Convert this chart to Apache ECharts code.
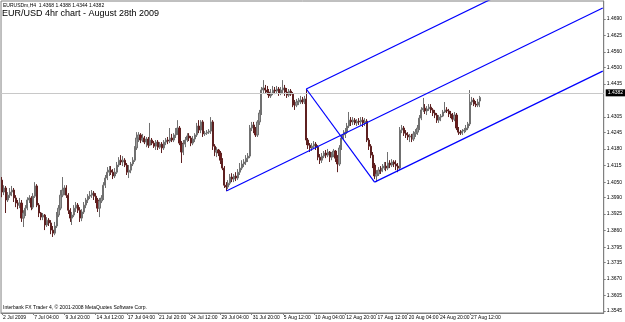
<!DOCTYPE html>
<html><head><meta charset="utf-8">
<script src="https://cdn.jsdelivr.net/npm/echarts@6/dist/echarts.min.js"></script>
<style>html,body{margin:0;padding:0;background:#fff}#c{width:625px;height:322px}</style>
</head><body><div id="c"></div>
<script>
// ---- data ----
const xTickLabels = ['2 Jul 2009','7 Jul 04:00','9 Jul 20:00','14 Jul 12:00','17 Jul 04:00','21 Jul 20:00','24 Jul 12:00','29 Jul 04:00','31 Jul 20:00','5 Aug 12:00','10 Aug 04:00','12 Aug 20:00','17 Aug 12:00','20 Aug 04:00','24 Aug 20:00','27 Aug 12:00'];
const yTickLabels = [1.3545,1.3605,1.3670,1.3735,1.3795,1.3860,1.3925,1.3990,1.4050,1.4115,1.4180,1.4245,1.4305,1.4435,1.4500,1.4560,1.4625,1.4690];
const slotCount = 309; // bar slots shown on the time axis (incl. empty right margin)
const opens = [
1.4058,1.4011,1.4027,1.3980,1.3999,1.4011,1.4019,1.3988,1.3968,1.3960,
1.3968,1.3909,1.3929,1.3948,1.3980,1.3988,1.3952,1.3995,1.4035,1.3960,
1.3929,1.3913,1.3921,1.3882,1.3901,1.3890,1.3862,1.3850,1.3878,1.3921,
1.3948,1.3999,1.4019,1.4027,1.3999,1.3940,1.3909,1.3921,1.3948,1.3960,
1.3940,1.3909,1.3933,1.3960,1.3980,1.3995,1.3999,1.4007,1.3995,1.3980,
1.3948,1.3976,1.3988,1.4038,1.4066,1.4089,1.4097,1.4089,1.4074,1.4089,
1.4117,1.4136,1.4129,1.4136,1.4117,1.4089,1.4097,1.4121,1.4136,1.4184,
1.4223,1.4235,1.4215,1.4223,1.4207,1.4219,1.4195,1.4215,1.4203,1.4191,
1.4207,1.4187,1.4199,1.4184,1.4207,1.4215,1.4211,1.4223,1.4215,1.4235,
1.4254,1.4262,1.4203,1.4168,1.4199,1.4215,1.4231,1.4223,1.4203,1.4219,
1.4235,1.4270,1.4254,1.4286,1.4239,1.4242,1.4246,1.4250,1.4286,1.4191,
1.4168,1.4176,1.4164,1.4136,1.4105,1.4038,1.4031,1.4046,1.4070,1.4062,
1.4074,1.4066,1.4089,1.4105,1.4121,1.4129,1.4144,1.4152,1.4262,1.4274,
1.4254,1.4235,1.4286,1.4321,1.4411,1.4419,1.4411,1.4403,1.4388,1.4399,
1.4411,1.4407,1.4415,1.4399,1.4411,1.4419,1.4403,1.4391,1.4407,1.4395,
1.4360,1.4352,1.4364,1.4368,1.4372,1.4364,1.4376,1.4215,1.4195,1.4184,
1.4191,1.4199,1.4187,1.4148,1.4136,1.4152,1.4164,1.4156,1.4168,1.4148,
1.4156,1.4172,1.4144,1.4121,1.4184,1.4223,1.4235,1.4246,1.4270,1.4293,
1.4286,1.4293,1.4282,1.4289,1.4286,1.4293,1.4282,1.4289,1.4215,1.4191,
1.4156,1.4117,1.4074,1.4082,1.4097,1.4093,1.4105,1.4113,1.4105,1.4125,
1.4117,1.4129,1.4121,1.4113,1.4105,1.4254,1.4262,1.4242,1.4235,1.4227,
1.4231,1.4219,1.4239,1.4246,1.4262,1.4301,1.4333,1.4340,1.4329,1.4337,
1.4344,1.4333,1.4321,1.4313,1.4293,1.4305,1.4309,1.4325,1.4333,1.4329,
1.4317,1.4309,1.4297,1.4313,1.4262,1.4246,1.4242,1.4250,1.4254,1.4262,
1.4278,1.4364,1.4372,1.4356,1.4352,1.4368];
const highs = [
1.4070,1.4038,1.4035,1.4011,1.4027,1.4035,1.4027,1.3999,1.3980,1.3988,
1.3980,1.3940,1.3960,1.3991,1.3999,1.3995,1.4007,1.4050,1.4042,1.3968,
1.3933,1.3929,1.3925,1.3913,1.3909,1.3901,1.3878,1.3894,1.3933,1.3960,
1.4019,1.4070,1.4038,1.4038,1.4007,1.3948,1.3933,1.3960,1.3972,1.3968,
1.3952,1.3944,1.3972,1.3988,1.4003,1.4015,1.4019,1.4015,1.4007,1.3988,
1.3988,1.3999,1.4050,1.4078,1.4109,1.4113,1.4113,1.4101,1.4105,1.4129,
1.4148,1.4156,1.4152,1.4144,1.4125,1.4117,1.4129,1.4148,1.4191,1.4246,
1.4246,1.4242,1.4239,1.4231,1.4227,1.4227,1.4282,1.4223,1.4211,1.4215,
1.4215,1.4207,1.4207,1.4215,1.4223,1.4227,1.4262,1.4239,1.4242,1.4262,
1.4293,1.4270,1.4211,1.4215,1.4227,1.4242,1.4242,1.4231,1.4231,1.4242,
1.4282,1.4293,1.4293,1.4293,1.4250,1.4254,1.4258,1.4305,1.4293,1.4199,
1.4187,1.4180,1.4172,1.4144,1.4113,1.4050,1.4058,1.4082,1.4085,1.4082,
1.4089,1.4101,1.4125,1.4136,1.4140,1.4156,1.4164,1.4274,1.4286,1.4286,
1.4266,1.4293,1.4333,1.4423,1.4450,1.4431,1.4427,1.4415,1.4415,1.4427,
1.4423,1.4427,1.4423,1.4423,1.4450,1.4431,1.4419,1.4415,1.4415,1.4403,
1.4372,1.4376,1.4380,1.4388,1.4384,1.4388,1.4415,1.4223,1.4203,1.4203,
1.4211,1.4207,1.4195,1.4160,1.4164,1.4172,1.4176,1.4180,1.4172,1.4168,
1.4180,1.4176,1.4156,1.4195,1.4235,1.4254,1.4262,1.4282,1.4325,1.4305,
1.4305,1.4301,1.4297,1.4301,1.4305,1.4305,1.4301,1.4297,1.4223,1.4199,
1.4168,1.4125,1.4097,1.4109,1.4113,1.4121,1.4129,1.4129,1.4168,1.4136,
1.4140,1.4136,1.4136,1.4125,1.4266,1.4274,1.4270,1.4254,1.4246,1.4239,
1.4239,1.4250,1.4258,1.4274,1.4313,1.4344,1.4380,1.4356,1.4348,1.4356,
1.4356,1.4340,1.4333,1.4321,1.4313,1.4317,1.4333,1.4364,1.4344,1.4337,
1.4329,1.4321,1.4325,1.4321,1.4266,1.4254,1.4258,1.4262,1.4274,1.4286,
1.4411,1.4384,1.4380,1.4368,1.4376,1.4388];
const lows = [
1.3991,1.3999,1.3929,1.3972,1.3988,1.3995,1.3972,1.3952,1.3944,1.3948,
1.3894,1.3874,1.3917,1.3940,1.3968,1.3940,1.3944,1.3988,1.3952,1.3913,
1.3901,1.3901,1.3862,1.3874,1.3878,1.3846,1.3835,1.3842,1.3870,1.3913,
1.3940,1.3991,1.3999,1.3988,1.3925,1.3894,1.3882,1.3913,1.3933,1.3929,
1.3894,1.3897,1.3925,1.3948,1.3968,1.3984,1.3988,1.3980,1.3968,1.3933,
1.3913,1.3968,1.3980,1.4027,1.4058,1.4074,1.4078,1.4062,1.4066,1.4082,
1.4109,1.4117,1.4113,1.4109,1.4078,1.4066,1.4085,1.4113,1.4129,1.4176,
1.4207,1.4203,1.4207,1.4199,1.4187,1.4184,1.4191,1.4195,1.4184,1.4176,
1.4176,1.4180,1.4164,1.4176,1.4195,1.4199,1.4203,1.4207,1.4207,1.4223,
1.4235,1.4195,1.4125,1.4156,1.4187,1.4207,1.4211,1.4191,1.4195,1.4207,
1.4227,1.4242,1.4242,1.4227,1.4231,1.4235,1.4239,1.4239,1.4176,1.4152,
1.4148,1.4152,1.4121,1.4097,1.4027,1.4015,1.4023,1.4038,1.4050,1.4050,
1.4054,1.4058,1.4078,1.4097,1.4109,1.4117,1.4129,1.4144,1.4250,1.4242,
1.4227,1.4227,1.4274,1.4313,1.4399,1.4399,1.4391,1.4380,1.4380,1.4391,
1.4395,1.4399,1.4388,1.4391,1.4395,1.4388,1.4380,1.4384,1.4388,1.4344,
1.4333,1.4344,1.4352,1.4356,1.4356,1.4356,1.4195,1.4180,1.4168,1.4172,
1.4184,1.4176,1.4136,1.4121,1.4125,1.4144,1.4144,1.4148,1.4129,1.4136,
1.4148,1.4129,1.4089,1.4113,1.4176,1.4215,1.4223,1.4239,1.4262,1.4270,
1.4274,1.4274,1.4270,1.4274,1.4274,1.4266,1.4270,1.4207,1.4176,1.4144,
1.4105,1.4062,1.4050,1.4074,1.4082,1.4089,1.4097,1.4093,1.4097,1.4105,
1.4109,1.4109,1.4097,1.4089,1.4097,1.4242,1.4231,1.4223,1.4215,1.4207,
1.4207,1.4211,1.4227,1.4235,1.4254,1.4293,1.4325,1.4317,1.4313,1.4329,
1.4321,1.4309,1.4301,1.4282,1.4282,1.4289,1.4305,1.4321,1.4321,1.4305,
1.4301,1.4286,1.4289,1.4254,1.4235,1.4235,1.4235,1.4242,1.4246,1.4254,
1.4270,1.4352,1.4348,1.4344,1.4344,1.4344];
const closes = [
1.4011,1.4027,1.3980,1.3999,1.4011,1.4019,1.3988,1.3968,1.3960,1.3968,
1.3909,1.3929,1.3948,1.3980,1.3988,1.3952,1.3995,1.4035,1.3960,1.3929,
1.3913,1.3921,1.3882,1.3901,1.3890,1.3862,1.3850,1.3878,1.3921,1.3948,
1.3999,1.4019,1.4027,1.3999,1.3940,1.3909,1.3921,1.3948,1.3960,1.3940,
1.3909,1.3933,1.3960,1.3980,1.3995,1.3999,1.4007,1.3995,1.3980,1.3948,
1.3976,1.3988,1.4038,1.4066,1.4089,1.4097,1.4089,1.4074,1.4089,1.4117,
1.4136,1.4129,1.4136,1.4117,1.4089,1.4097,1.4121,1.4136,1.4184,1.4223,
1.4235,1.4215,1.4223,1.4207,1.4219,1.4195,1.4215,1.4203,1.4191,1.4207,
1.4187,1.4199,1.4184,1.4207,1.4215,1.4211,1.4223,1.4215,1.4235,1.4254,
1.4262,1.4203,1.4168,1.4199,1.4215,1.4231,1.4223,1.4203,1.4219,1.4235,
1.4270,1.4254,1.4286,1.4239,1.4242,1.4246,1.4250,1.4286,1.4191,1.4168,
1.4176,1.4164,1.4136,1.4105,1.4038,1.4031,1.4046,1.4070,1.4062,1.4074,
1.4066,1.4089,1.4105,1.4121,1.4129,1.4144,1.4152,1.4262,1.4274,1.4254,
1.4235,1.4286,1.4321,1.4411,1.4419,1.4411,1.4403,1.4388,1.4399,1.4411,
1.4407,1.4415,1.4399,1.4411,1.4419,1.4403,1.4391,1.4407,1.4395,1.4360,
1.4352,1.4364,1.4368,1.4372,1.4364,1.4376,1.4215,1.4195,1.4184,1.4191,
1.4199,1.4187,1.4148,1.4136,1.4152,1.4164,1.4156,1.4168,1.4148,1.4156,
1.4172,1.4144,1.4121,1.4184,1.4223,1.4235,1.4246,1.4270,1.4293,1.4286,
1.4293,1.4282,1.4289,1.4286,1.4293,1.4282,1.4289,1.4215,1.4191,1.4156,
1.4117,1.4074,1.4082,1.4097,1.4093,1.4105,1.4113,1.4105,1.4125,1.4117,
1.4129,1.4121,1.4113,1.4105,1.4254,1.4262,1.4242,1.4235,1.4227,1.4231,
1.4219,1.4239,1.4246,1.4262,1.4301,1.4333,1.4340,1.4329,1.4337,1.4344,
1.4333,1.4321,1.4313,1.4293,1.4305,1.4309,1.4325,1.4333,1.4329,1.4317,
1.4309,1.4297,1.4313,1.4262,1.4246,1.4242,1.4250,1.4254,1.4262,1.4278,
1.4364,1.4372,1.4356,1.4352,1.4364,1.4382];
// Andrews pitchfork anchor points [bar index, price]
const pitchP1 = [115, 1.4015];
const pitchP2 = [156, 1.4415];
const pitchP3 = [191, 1.4050];
const lastPrice = 1.4382;
const headerText = 'EURUSDm,H4  1.4368 1.4388 1.4344 1.4382';
const titleText = 'EUR/USD 4hr chart - August 28th 2009';
const footerText = 'Interbank FX Trader 4, \u00A9 2001-2008 MetaQuotes Software Corp.';

// ---- build ----
const categories = Array.from({length: slotCount}, (_, i) => String(i));
const candles = opens.map((o, i) => [o, closes[i], lows[i], highs[i]]);
const mid = [(pitchP2[0] + pitchP3[0]) / 2, (pitchP2[1] + pitchP3[1]) / 2];
const slope = (mid[1] - pitchP1[1]) / (mid[0] - pitchP1[0]);
const endIdx = slotCount - 1;
const ext = p => [p, [endIdx, p[1] + slope * (endIdx - p[0])]];
const blue = {color: '#0000ff', width: 1.2};
const lineSeries = (data) => ({type: 'line', data, symbol: 'none', lineStyle: blue, silent: true, animation: false, clip: true, z: 5});

const chart = echarts.init(document.getElementById('c'), null, {renderer: 'canvas'});
const isTick = (i) => i % 16 === 0 && i / 16 < xTickLabels.length;
chart.setOption({
  animation: false,
  backgroundColor: '#ffffff',
  textStyle: {fontFamily: 'Liberation Sans, Arial, sans-serif'},
  title: {text: titleText, left: 2, top: 9, padding: 0,
    textStyle: {fontSize: 9, fontWeight: 'normal', color: '#000', fontFamily: 'Liberation Sans, Arial, sans-serif'}},
  graphic: [
    {type: 'text', left: 3, top: 3, style: {text: headerText, fontSize: 5, fill: '#000', fontFamily: 'Liberation Sans, Arial, sans-serif'}},
    {type: 'text', left: 3, top: 305, style: {text: footerText, fontSize: 5, fill: '#000', fontFamily: 'Liberation Sans, Arial, sans-serif'}}
  ],
  grid: {left: 1, right: 18, top: 1, bottom: 9, show: true, borderColor: '#808080', borderWidth: 1, containLabel: false},
  xAxis: {
    type: 'category', data: categories, boundaryGap: true,
    axisLine: {lineStyle: {color: '#808080'}},
    axisTick: {show: true, alignWithLabel: true, interval: (i) => isTick(i), length: 2, lineStyle: {color: '#808080'}},
    axisLabel: {interval: (i) => isTick(i), formatter: (v, i) => xTickLabels[i / 16], fontSize: 5, color: '#000', align: 'left', margin: 2, padding: [0, 0, 0, 1]},
    splitLine: {show: false}
  },
  yAxis: {
    type: 'value', position: 'right', min: 1.3537, max: 1.4760, scale: true,
    axisLine: {show: true, lineStyle: {color: '#808080'}},
    axisTick: {show: true, length: 2, customValues: yTickLabels, lineStyle: {color: '#808080'}},
    axisLabel: {customValues: yTickLabels, formatter: v => v.toFixed(4), fontSize: 5, color: '#000', margin: 3},
    splitLine: {show: false}
  },
  series: [
    {
      type: 'candlestick', data: candles, barWidth: '85%', z: 3,
      itemStyle: {color: '#9a9a9a', color0: '#6e1a1a', borderColor: '#707070', borderColor0: '#5e2020', borderWidth: 1},
      markLine: {
        silent: true, symbol: ['none', 'none'], animation: false,
        lineStyle: {color: '#c8c8c8', type: 'solid', width: 1},
        label: {show: true, position: 'end', distance: 2, formatter: () => lastPrice.toFixed(4),
          backgroundColor: '#000', color: '#fff', fontSize: 5, padding: [1, 2]},
        data: [{yAxis: lastPrice}]
      }
    },
    lineSeries(ext(pitchP1)),
    lineSeries(ext(pitchP2)),
    lineSeries(ext(pitchP3)),
    lineSeries([pitchP2, pitchP3])
  ]
});
</script></body></html>
